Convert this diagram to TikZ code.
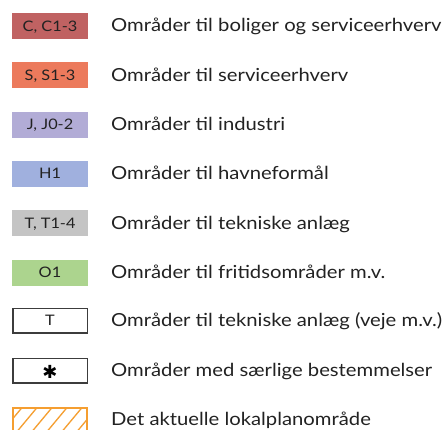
\documentclass[tikz,border=0pt]{standalone}
\usepackage{fontspec}
\setmainfont[FakeStretch=1.125]{Lato}
\newfontfamily\symfont{DejaVu Sans}
\definecolor{cC}{RGB}{192,98,98}
\definecolor{cS}{RGB}{236,122,92}
\definecolor{cJ}{RGB}{178,172,214}
\definecolor{cH}{RGB}{160,176,222}
\definecolor{cT}{RGB}{196,196,196}
\definecolor{cO}{RGB}{172,212,142}
\definecolor{cHatch}{RGB}{245,158,48}
\definecolor{ink}{RGB}{34,34,34}
\definecolor{frame}{RGB}{60,60,60}
\begin{document}
\begin{tikzpicture}[x=1pt,y=-1pt,
  keybox/.style={minimum width=76pt, minimum height=26pt, inner sep=0pt, outer sep=0pt},
  keylabel/.style={anchor=base, inner sep=0pt, text=ink, font=\fontsize{14.5}{16}\selectfont},
  desc/.style={anchor=base west, inner sep=0pt, text=ink, font=\fontsize{18}{21}\selectfont}]
\useasboundingbox (0,0) rectangle (445,429);
\fill[white] (0,0) rectangle (445,429);
% rows
\node[keybox, fill=cC] (k1) at (50,26) {};
\node[keylabel] (l1) at (50,31) {C, C1-3};
\node[desc] (d1) at (111,31.8) {Områder til boliger og serviceerhverv};

\node[keybox, fill=cS] (k2) at (50,75.3) {};
\node[keylabel] (l2) at (50,80.3) {S, S1-3};
\node[desc] (d2) at (111,81.1) {Områder til serviceerhverv};

\node[keybox, fill=cJ] (k3) at (50,124.6) {};
\node[keylabel] (l3) at (50,129.6) {J, J0-2};
\node[desc] (d3) at (111,130.4) {Områder til industri};

\node[keybox, fill=cH] (k4) at (50,173.9) {};
\node[keylabel] (l4) at (50,178.9) {H1};
\node[desc] (d4) at (111,179.7) {Områder til havneformål};

\node[keybox, fill=cT] (k5) at (50,223.2) {};
\node[keylabel] (l5) at (50,228.2) {T, T1-4};
\node[desc] (d5) at (111,229) {Områder til tekniske anlæg};

\node[keybox, fill=cO] (k6) at (50,272.5) {};
\node[keylabel] (l6) at (50,277.5) {O1};
\node[desc] (d6) at (111,278.3) {Områder til fritidsområder m.v.};

\node[keybox, minimum width=74.5pt, minimum height=24.5pt, draw=frame, line width=1.5pt] (k7) at (50,320.8) {};
\node[keylabel] (l7) at (50,325.8) {T};
\node[desc] (d7) at (111,326.6) {Områder til tekniske anlæg (veje m.v.)};

\node[keybox, minimum width=74.5pt, minimum height=24.5pt, draw=frame, line width=1.5pt] (k8) at (50,370.6) {};
\node[anchor=center, inner sep=0pt, text=black, font=\symfont\bfseries\fontsize{18}{19}\selectfont] (l8) at (50,371.6) {✱};
\node[desc] (d8) at (111,376.4) {Områder med særlige bestemmelser};

% hatched
\begin{scope}
\clip (12.8,407.8) rectangle (87.2,433.2);
\foreach \i in {0,...,7} {
  \draw[cHatch, line width=1.3pt] (\i*15-20,440) -- ++(30,-36);
}
\end{scope}
\node[keybox, minimum width=74.5pt, minimum height=26pt, draw=cHatch, line width=2pt] (k9) at (50,420.5) {};
\node[desc] (d9) at (111,425.3) {Det aktuelle lokalplanområde};
\end{tikzpicture}
\end{document}
